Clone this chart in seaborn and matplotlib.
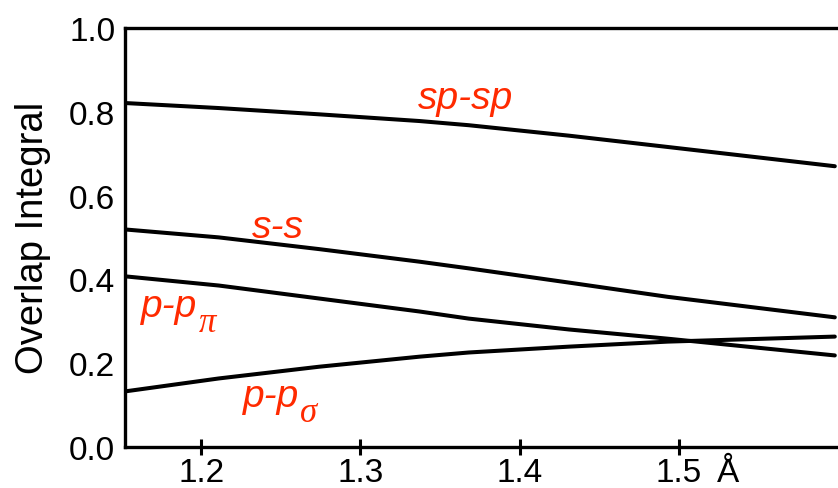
import matplotlib
matplotlib.use("Agg")
import matplotlib.pyplot as plt
import seaborn as sns
import pandas as pd

# Data
bond_length = [1.152, 1.211, 1.274, 1.337, 1.368, 1.431, 1.493, 1.598]
sp_sp = [0.821, 0.809, 0.794, 0.778, 0.768, 0.743, 0.716, 0.670]
s_s = [0.519, 0.500, 0.472, 0.442, 0.426, 0.392, 0.358, 0.309]
p_p_pi = [0.407, 0.385, 0.354, 0.323, 0.306, 0.280, 0.258, 0.218]
p_p_sigma = [0.132, 0.163, 0.191, 0.215, 0.225, 0.239, 0.251, 0.263]

x_ticks = [1.2, 1.3, 1.4, 1.5]
x_tick_labels = ["1.2", "1.3", "1.4", "1.5"]
y_ticks = [0.0, 0.2, 0.4, 0.6, 0.8, 1.0]
y_tick_labels = ["0.0", "0.2", "0.4", "0.6", "0.8", "1.0"]

sns.set_theme(style="white")
plt.rcParams["font.family"] = ["Liberation Sans", "DejaVu Sans"]
plt.rcParams["text.color"] = "black"
plt.rcParams["axes.labelcolor"] = "black"
plt.rcParams["xtick.color"] = "black"
plt.rcParams["ytick.color"] = "black"

df = pd.DataFrame({
    "x": bond_length * 4,
    "y": sp_sp + s_s + p_p_pi + p_p_sigma,
    "series": (["sp-sp"] * len(bond_length) + ["s-s"] * len(bond_length)
               + ["p-ppi"] * len(bond_length) + ["p-psigma"] * len(bond_length)),
})

fig = plt.figure(figsize=(8.38, 4.89), dpi=100)
ax = fig.add_axes([0.149, 0.0845, 0.851, 0.856])
sns.lineplot(data=df, x="x", y="y", units="series", estimator=None,
             color="black", linewidth=2.9, ax=ax, legend=False)

ax.set_xlim(1.152, 1.6)
ax.set_ylim(0.0, 1.0)
ax.set_xticks(x_ticks)
ax.set_xticklabels(x_tick_labels)
ax.set_yticks(y_ticks)
ax.set_yticklabels(y_tick_labels)
ax.set_xlabel("")
ax.set_ylabel("Overlap Integral", fontsize=27.5, labelpad=13)

for side in ["left", "bottom", "top"]:
    ax.spines[side].set_visible(True)
    ax.spines[side].set_linewidth(2.4)
    ax.spines[side].set_color("black")
ax.spines["right"].set_visible(False)

ax.tick_params(axis="x", direction="inout", length=11.5, width=2.2,
               color="black", labelcolor="black", labelsize=24, pad=2, bottom=True)
ax.tick_params(axis="y", length=0, labelsize=24, pad=7, left=False,
               labelcolor="black")

red = "#ff2a00"
tkw = dict(color=red, fontsize=28, fontstyle="italic", ha="center", va="center")
ax.text(1.366, 0.832, "sp-sp", **tkw)
ax.text(1.248, 0.526, "s-s", **tkw)
t_pi = ax.text(1.162, 0.336, "p-p", color=red, fontsize=28, fontstyle="italic",
               ha="left", va="center")
t_sig = ax.text(1.226, 0.120, "p-p", color=red, fontsize=28, fontstyle="italic",
                ha="left", va="center")
sub_kw = dict(xy=(1, 0.05), textcoords="offset points", color=red,
              fontsize=25, ha="left", va="center",
              family=["Liberation Serif", "DejaVu Serif"], fontstyle="italic")
ax.annotate("π", xycoords=t_pi, xytext=(1, 0), **sub_kw)
ax.annotate("σ", xycoords=t_sig, xytext=(1, 0), **sub_kw)

fig.canvas.draw()
lab15 = [t for t in ax.get_xticklabels() if t.get_text() == "1.5"][0]
ax.annotate("Å", xy=(1, 0), xycoords=lab15, xytext=(11, 0),
            textcoords="offset points", fontsize=24, ha="left", va="bottom",
            color="black")

fig.savefig("out.png", dpi=100)
